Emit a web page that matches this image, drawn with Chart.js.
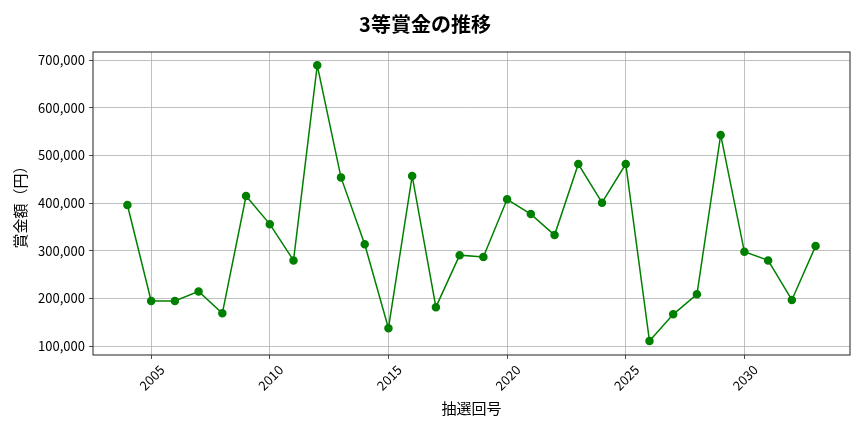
<!DOCTYPE html>
<html>
<head>
<meta charset="utf-8">
<script src="https://cdn.jsdelivr.net/npm/chart.js@4/dist/chart.umd.min.js"></script>
<style>
  html, body { margin: 0; padding: 0; background: #fff; }
  #wrap { width: 864px; height: 432px; }
</style>
</head>
<body>
<div id="wrap"><canvas id="prizeChart" width="864" height="432"></canvas></div>
<script>
// 抽選回号 and 3等賞金
const drawNumbers = [2004, 2005, 2006, 2007, 2008, 2009, 2010, 2011, 2012, 2013,
  2014, 2015, 2016, 2017, 2018, 2019, 2020, 2021, 2022, 2023,
  2024, 2025, 2026, 2027, 2028, 2029, 2030, 2031, 2032, 2033];
const prizes = [396000, 195000, 195000, 215000, 169000, 415000, 356000, 280000, 689000, 454000,
  314000, 138000, 457000, 182000, 291000, 287000, 408000, 377000, 333000, 482000,
  401000, 482000, 111000, 167000, 209000, 543000, 298000, 280000, 197000, 310000];
const xTicks = [2005, 2010, 2015, 2020, 2025, 2030];
const yTicks = [100000, 200000, 300000, 400000, 500000, 600000, 700000];

const FONT = "'Noto Sans CJK JP', 'Noto Sans', sans-serif";

// full box around the plot, like matplotlib spines
const frame = {
  id: "frame",
  afterDraw(chart) {
    const a = chart.chartArea;
    const ctx = chart.ctx;
    ctx.save();
    ctx.strokeStyle = "#222";
    ctx.lineWidth = 1;
    ctx.strokeRect(a.left, a.top, a.right - a.left, a.bottom - a.top);
    ctx.restore();
  },
};

const ctx = document.getElementById("prizeChart").getContext("2d");

new Chart(ctx, {
  type: "line",
  data: {
    datasets: [
      {
        data: drawNumbers.map((n, i) => ({ x: n, y: prizes[i] })),
        borderColor: "#008000",
        backgroundColor: "#008000",
        borderWidth: 1.5,
        pointRadius: 3.5,
        pointHoverRadius: 3.5,
        tension: 0,
      },
    ],
  },
  options: {
    responsive: false,
    animation: false,
    layout: { padding: { left: 0, right: 14, top: 0, bottom: 0 } },
    plugins: {
      legend: { display: false },
      tooltip: { enabled: false },
      title: {
        display: true,
        text: "3等賞金の推移",
        color: "#000",
        font: { family: FONT, size: 20, weight: "bold", lineHeight: 1.2 },
        padding: { top: 12, bottom: 16 },
      },
    },
    scales: {
      x: {
        type: "linear",
        min: 2002.55,
        max: 2034.45,
        afterBuildTicks: (scale) => {
          scale.ticks = xTicks.map((v) => ({ value: v }));
        },
        afterFit: (scale) => {
          scale.height = 77;
        },
        border: { display: false },
        grid: {
          color: "#b0b0b0",
          lineWidth: 0.8,
          tickColor: "#222",
          tickLength: 4,
        },
        ticks: {
          color: "#000",
          font: { family: FONT, size: 13 },
          minRotation: 45,
          maxRotation: 45,
          labelOffset: 11,
          padding: 3,
          callback: (v) => String(v),
        },
        title: {
          display: true,
          text: "抽選回号",
          color: "#000",
          font: { family: FONT, size: 15, lineHeight: 1.2 },
          padding: { top: 0, bottom: 15 },
        },
      },
      y: {
        min: 81700,
        max: 716800,
        afterBuildTicks: (scale) => {
          scale.ticks = yTicks.map((v) => ({ value: v }));
        },
        afterFit: (scale) => {
          scale.width = 93;
        },
        border: { display: false },
        grid: {
          color: "#b0b0b0",
          lineWidth: 0.8,
          tickColor: "#222",
          tickLength: 4,
        },
        ticks: {
          color: "#000",
          font: { family: FONT, size: 13 },
          padding: 4,
          callback: (v) => v.toLocaleString("en-US"),
        },
        title: {
          display: true,
          text: "賞金額（円）",
          color: "#000",
          font: { family: FONT, size: 15, lineHeight: 1.2 },
          padding: { top: 11, bottom: 0 },
        },
      },
    },
  },
  plugins: [frame],
});
</script>
</body>
</html>
